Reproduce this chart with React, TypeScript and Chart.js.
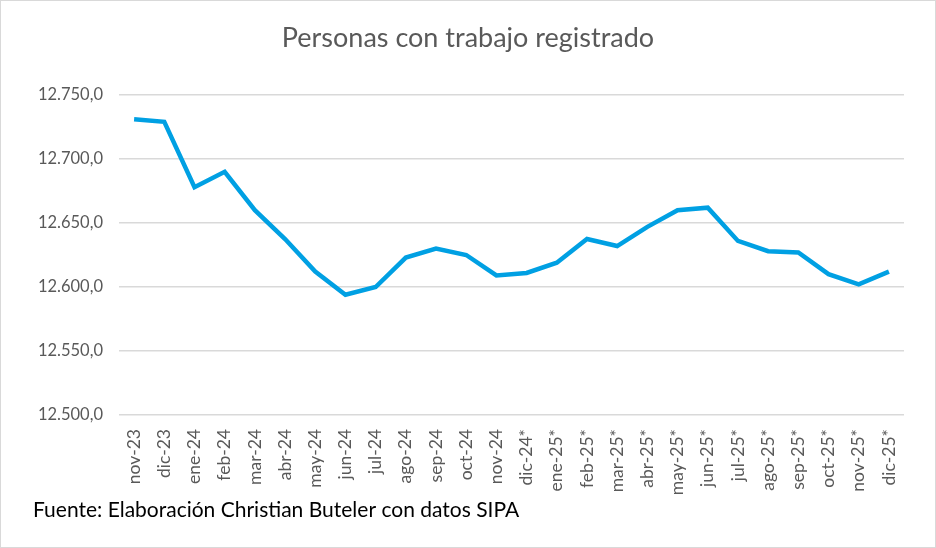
import React, { useEffect, useRef } from "react";
import { Chart, registerables } from "chart.js";

Chart.register(...registerables);

const categories = [
  "nov-23", "dic-23", "ene-24", "feb-24", "mar-24", "abr-24", "may-24", "jun-24",
  "jul-24", "ago-24", "sep-24", "oct-24", "nov-24", "dic-24*", "ene-25*", "feb-25*",
  "mar-25*", "abr-25*", "may-25*", "jun-25*", "jul-25*", "ago-25*", "sep-25*",
  "oct-25*", "nov-25*", "dic-25*",
];

const personas = [
  12731, 12729, 12678, 12690, 12660, 12637.5, 12612, 12594,
  12600, 12623, 12630, 12625, 12609, 12611, 12619, 12637.5,
  12632, 12647, 12660, 12662, 12636, 12628, 12627,
  12610, 12602, 12612,
];

const yMin = 12500;
const yMax = 12750;
const yStep = 50;

const titleText = "Personas con trabajo registrado";
const footerText = "Fuente: Elaboración Christian Buteler con datos SIPA";

const FONT = "Lato, 'Open Sans', sans-serif";

function formatEs(v: number): string {
  const fixed = v.toFixed(1);
  const [intPart, dec] = fixed.split(".");
  const withDots = intPart.replace(/\B(?=(\d{3})+(?!\d))/g, ".");
  return withDots + "," + dec;
}

const framePlugin = {
  id: "frame",
  afterDraw(chart: any) {
    const ctx = chart.ctx;
    ctx.save();
    ctx.strokeStyle = "#d9d9d9";
    ctx.lineWidth = 1;
    ctx.strokeRect(0.5, 0.5, chart.width - 1, chart.height - 1);
    ctx.fillStyle = "#000000";
    ctx.font = `21px ${FONT}`;
    ctx.textBaseline = "alphabetic";
    ctx.textAlign = "left";
    ctx.fillText(footerText, 33, 517);
    ctx.restore();
  },
};

export default function App() {
  const canvasRef = useRef<HTMLCanvasElement | null>(null);

  useEffect(() => {
    document.body.style.margin = "0";
    const canvas = canvasRef.current;
    if (!canvas) return;
    const chart = new Chart(canvas, {
      type: "line",
      data: {
        labels: categories,
        datasets: [
          {
            label: "Personas",
            data: personas,
            borderColor: "#00a0e3",
            borderWidth: 4.5,
            pointRadius: 0,
            tension: 0,
            fill: false,
            yAxisID: "y",
          },
        ],
      },
      options: {
        animation: false,
        responsive: false,
        maintainAspectRatio: false,
        layout: { padding: 0 },
        plugins: {
          legend: { display: false },
          tooltip: { enabled: false },
          title: {
            display: true,
            text: titleText,
            color: "#595959",
            font: { family: FONT, size: 27, weight: "normal" },
            padding: { top: 22, bottom: 40.6 },
          },
        },
        scales: {
          x: {
            offset: true,
            grid: { display: false },
            border: { display: false },
            ticks: {
              autoSkip: false,
              minRotation: 90,
              maxRotation: 90,
              color: "#595959",
              font: { family: FONT, size: 17.5 },
              padding: 6,
            },
            afterFit(scale: any) {
              scale.height = 133;
            },
          },
          y: {
            position: "left",
            min: yMin,
            max: yMax,
            grid: { color: "#d9d9d9", lineWidth: 1.5, drawTicks: false },
            border: { display: false },
            ticks: {
              stepSize: yStep,
              color: "#595959",
              font: { family: FONT, size: 16.5 },
              padding: 16,
              callback: (v: any) => formatEs(Number(v)),
            },
            afterFit(scale: any) {
              scale.width = 119;
            },
          },
          yRightSpace: {
            position: "right",
            min: yMin,
            max: yMax,
            grid: { display: false, drawTicks: false },
            border: { display: false },
            ticks: { display: false },
            afterFit(scale: any) {
              scale.width = 32;
            },
          },
        },
      },
      plugins: [framePlugin],
    });
    return () => chart.destroy();
  }, []);

  return (
    <div style={{ position: "absolute", left: 0, top: 0, width: 936, height: 548, background: "#fff" }}>
      <canvas ref={canvasRef} width={936} height={548} style={{ width: 936, height: 548 }} />
    </div>
  );
}
